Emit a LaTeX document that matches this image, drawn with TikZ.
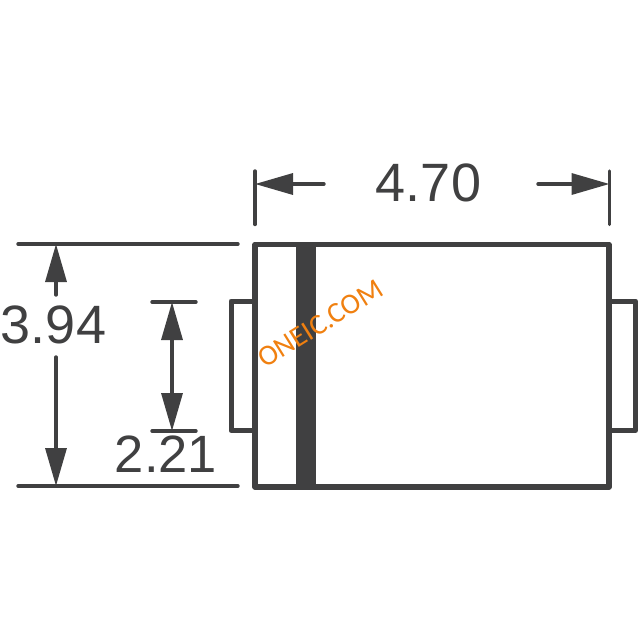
\documentclass[tikz,border=0pt]{standalone}
\usepackage{fontspec}
\setmainfont{Liberation Sans}
\newfontfamily\wmfont{Carlito}
\usetikzlibrary{arrows.meta}
\definecolor{ink}{HTML}{404041}
\definecolor{wm}{HTML}{F08010}
\tikzset{
  x=1pt,y=-1pt,
  body/.style={draw=ink,line width=5.5pt,line join=round},
  leadL/.style={draw=ink,line width=5pt,line join=round},
  ext/.style={draw=ink,line width=3.4pt,line cap=round},
  dimline/.style={draw=ink,line width=3.4pt,line cap=round,-{Triangle[length=38pt,width=21pt,inset=0pt]}},
  dimtext/.style={text=ink,font=\fontsize{54}{55}\selectfont,inner sep=0pt},
}
\begin{document}
\begin{tikzpicture}
\useasboundingbox (0,0) rectangle (640,640);
% leads
\draw[leadL] (255,301) -- (231,301) -- (231,430.5) -- (255,430.5);
\draw[leadL] (609,301) -- (635.5,301) -- (635.5,430.5) -- (609,430.5);
% body and band
\fill[ink] (296,244) rectangle (315.5,487);
\draw[body] (255,244.5) rectangle (609,487);
% extension lines
\coordinate (tl) at (255,171); \coordinate (tlb) at (255,224.5);
\coordinate (tr) at (609.5,171); \coordinate (trb) at (609.5,224.5);
\coordinate (ha) at (18,244); \coordinate (hb) at (238,244);
\coordinate (hc) at (18,486); \coordinate (hd) at (238,486);
\coordinate (ia) at (152,302); \coordinate (ib) at (196,302);
\coordinate (ic) at (152,431); \coordinate (id) at (196,431);
\draw[ext] (tl) -- (tlb);
\draw[ext] (tr) -- (trb);
\draw[ext] (ha) -- (hb);
\draw[ext] (hc) -- (hd);
\draw[ext] (ia) -- (ib);
\draw[ext] (ic) -- (id);
% dimension arrows
\coordinate (w1) at (324,184); \coordinate (w1t) at (255,184);
\coordinate (w2) at (538,184); \coordinate (w2t) at (609.5,184);
\coordinate (h1) at (56,295); \coordinate (h1t) at (56,244);
\coordinate (h2) at (56,357); \coordinate (h2t) at (56,486);
\coordinate (imid) at (172,366); \coordinate (i1t) at (172,302); \coordinate (i2t) at (172,431);
\draw[dimline] (w1) -- (w1t);
\draw[dimline] (w2) -- (w2t);
\draw[dimline] (h1) -- (h1t);
\draw[dimline] (h2) -- (h2t);
\draw[dimline] (imid) -- (i1t);
\draw[dimline] (imid) -- (i2t);
% labels
\node[dimtext] (lw) at (428.5,183) {4.70};
\node[dimtext] (lh) at (53.5,324.5) {3.94};
\node[dimtext,font=\fontsize{52.5}{54}\selectfont] (li) at (166,454.5) {2.21};
\node[text=wm,font=\wmfont\fontsize{29}{30}\selectfont,rotate=32,inner sep=0pt] (wmk) at (320.5,323.5) {ONEIC.COM};
\end{tikzpicture}
\end{document}
